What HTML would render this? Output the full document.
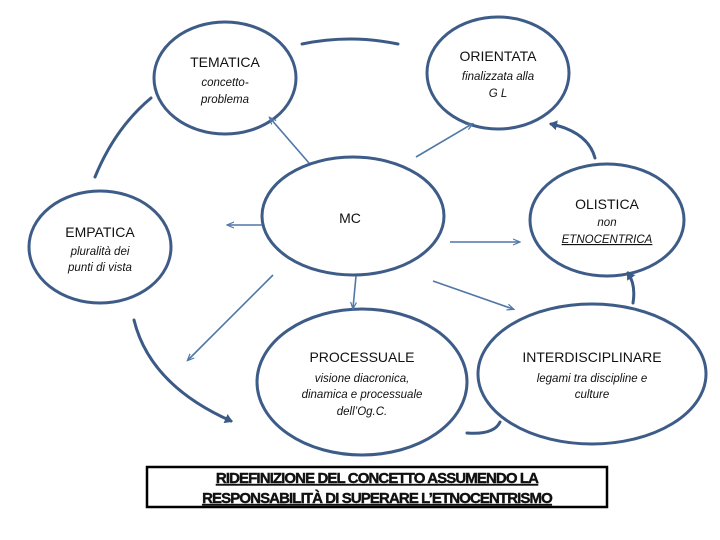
<!DOCTYPE html>
<html><head><meta charset="utf-8"><style>
body{margin:0;background:#fff;}
svg{display:block;font-family:"Liberation Sans",sans-serif;}
.t{font-size:14px;fill:#111;text-anchor:middle;}
.i{font-size:11.5px;font-style:italic;fill:#111;text-anchor:middle;}
.b{font-size:15px;font-weight:bold;fill:#111;stroke:#111;stroke-width:0.4;text-anchor:middle;text-decoration:underline;letter-spacing:-0.9px;}
</style></head><body>
<svg width="720" height="540" viewBox="0 0 720 540">
<defs>
<marker id="a" markerWidth="8" markerHeight="8" refX="6" refY="4" orient="auto" markerUnits="userSpaceOnUse"><path d="M0,1 L7,4 L0,7" fill="none" stroke="#4f77a8" stroke-width="1.2"/></marker>
<marker id="A" markerWidth="10" markerHeight="10" refX="6" refY="5" orient="auto" markerUnits="userSpaceOnUse"><path d="M0,0 L8,5 L0,10 z" fill="#3b5a85"/></marker>
</defs>
<g fill="#fff" stroke="#3e5c88" stroke-width="3">
<ellipse cx="225" cy="78" rx="71" ry="56"/>
<ellipse cx="498" cy="73" rx="71" ry="56"/>
<ellipse cx="353" cy="216" rx="91" ry="59"/>
<ellipse cx="607" cy="220" rx="77" ry="56"/>
<ellipse cx="100" cy="247" rx="71" ry="56"/>
<ellipse cx="362" cy="382" rx="105" ry="73"/>
<ellipse cx="592" cy="374" rx="114" ry="70"/>
</g>
<g stroke="#4f77a8" stroke-width="1.6" fill="none" marker-end="url(#a)">
<line x1="309" y1="163" x2="270" y2="118"/>
<line x1="416" y1="157" x2="472" y2="124"/>
<line x1="262" y1="225" x2="228" y2="225"/>
<line x1="450" y1="242" x2="519" y2="242"/>
<line x1="356" y1="276" x2="353" y2="308"/>
<line x1="273" y1="275" x2="188" y2="360"/>
<line x1="433" y1="281" x2="513" y2="309"/>
</g>
<g stroke="#3b5a85" stroke-width="3" fill="none" stroke-linecap="round">
<path d="M302,44 Q350,34 398,44"/>
<path d="M95,177 Q115,128 151,98"/>
<path d="M595,158 Q588,132 551,124" marker-end="url(#A)"/>
<path d="M633,303 Q636,285 628,273" marker-end="url(#A)"/>
<path d="M134,320 Q150,385 231,421" marker-end="url(#A)"/>
<path d="M500,422 Q494,435 467,433"/>
</g>
<text class="t" x="225" y="67">TEMATICA</text>
<text class="i" x="225" y="86">concetto-</text>
<text class="i" x="225" y="103">problema</text>
<text class="t" x="498" y="61">ORIENTATA</text>
<text class="i" x="498" y="80">finalizzata alla</text>
<text class="i" x="498" y="97">G L</text>
<text class="t" x="350" y="223">MC</text>
<text class="t" x="607" y="209">OLISTICA</text>
<text class="i" x="607" y="226">non</text>
<text class="i" x="607" y="243" text-decoration="underline">ETNOCENTRICA</text>
<text class="t" x="100" y="237">EMPATICA</text>
<text class="i" x="100" y="255">pluralità dei</text>
<text class="i" x="100" y="271">punti di vista</text>
<text class="t" x="362" y="362">PROCESSUALE</text>
<text class="i" x="362" y="382">visione diacronica,</text>
<text class="i" x="362" y="398">dinamica e processuale</text>
<text class="i" x="362" y="415">dell’Og.C.</text>
<text class="t" x="592" y="362">INTERDISCIPLINARE</text>
<text class="i" x="592" y="382">legami tra discipline e</text>
<text class="i" x="592" y="398">culture</text>
<rect x="147" y="467" width="460" height="40" fill="none" stroke="#000" stroke-width="2.5"/>
<text class="b" x="377" y="483">RIDEFINIZIONE  DEL CONCETTO  ASSUMENDO LA</text>
<text class="b" x="377" y="503">RESPONSABILITÀ DI SUPERARE L’ETNOCENTRISMO</text>
</svg>
</body></html>
